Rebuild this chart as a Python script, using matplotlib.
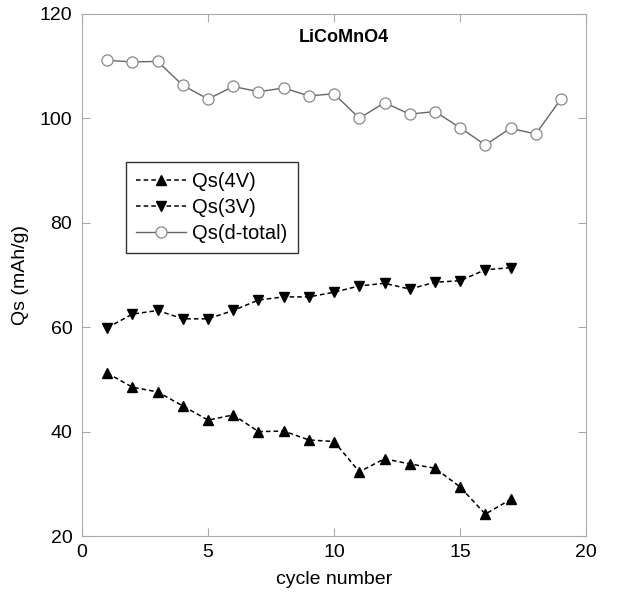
import matplotlib.pyplot as plt
import numpy as np

plt.rcParams['font.family'] = ['Liberation Sans', 'DejaVu Sans']

# cycle numbers and capacities
cycle_4v = np.arange(1, 18)
qs_4v = [51.2, 48.5, 47.6, 44.9, 42.2, 43.2, 40.0, 40.1, 38.4, 38.1,
         32.3, 34.8, 33.8, 33.0, 29.4, 24.2, 27.0]
cycle_3v = np.arange(1, 18)
qs_3v = [59.9, 62.5, 63.2, 61.6, 61.6, 63.2, 65.2, 65.8, 65.8, 66.7,
         67.9, 68.4, 67.3, 68.6, 68.9, 71.0, 71.4]
cycle_tot = np.arange(1, 20)
qs_tot = [111.1, 110.8, 110.9, 106.3, 103.7, 106.1, 105.1, 105.8, 104.3, 104.7,
          100.0, 103.0, 100.8, 101.3, 98.2, 94.9, 98.1, 97.0, 103.7]

fig = plt.figure(figsize=(6.17, 5.94), dpi=100)
ax = fig.add_axes([0.133, 0.0976, 0.817, 0.879])

ax.plot(cycle_4v, qs_4v, ls=(0, (3, 2)), color='black', lw=1.1,
        marker='^', ms=7.5, mfc='black', mec='black', label='Qs(4V)')
ax.plot(cycle_3v, qs_3v, ls=(0, (3, 2)), color='black', lw=1.1,
        marker='v', ms=7.5, mfc='black', mec='black', label='Qs(3V)')
ax.plot(cycle_tot, qs_tot, ls='-', color='#666666', lw=1.0,
        marker='o', ms=8, mfc='white', mec='#888888', mew=0.9, label='Qs(d-total)')

ax.set_xlim(0, 20)
ax.set_ylim(20, 120)
ax.set_xticks([0, 5, 10, 15, 20])
ax.set_yticks([20, 40, 60, 80, 100, 120])
ax.tick_params(direction='in', top=True, right=True, length=6,
               color='#aaaaaa', labelsize=14)
ax.tick_params(axis='y', pad=7)
ax.tick_params(axis='x', pad=6)
for s in ax.spines.values():
    s.set_color('#aaaaaa')

ax.set_xlabel('cycle number', fontsize=14, labelpad=7)
ax.set_ylabel('Qs (mAh/g)', fontsize=14, labelpad=8)
ax.text(10.4, 115.4, 'LiCoMnO4', fontsize=13, fontweight='bold',
        ha='center', va='center')

leg = ax.legend(loc='upper left', bbox_to_anchor=(0.087, 0.716), fontsize=14.5,
                frameon=True, fancybox=False, edgecolor='black',
                handlelength=2.5, borderpad=0.5, labelspacing=0.35,
                handletextpad=0.3, borderaxespad=0)
leg.get_frame().set_linewidth(1.0)

fig.savefig('out.png', dpi=100)
